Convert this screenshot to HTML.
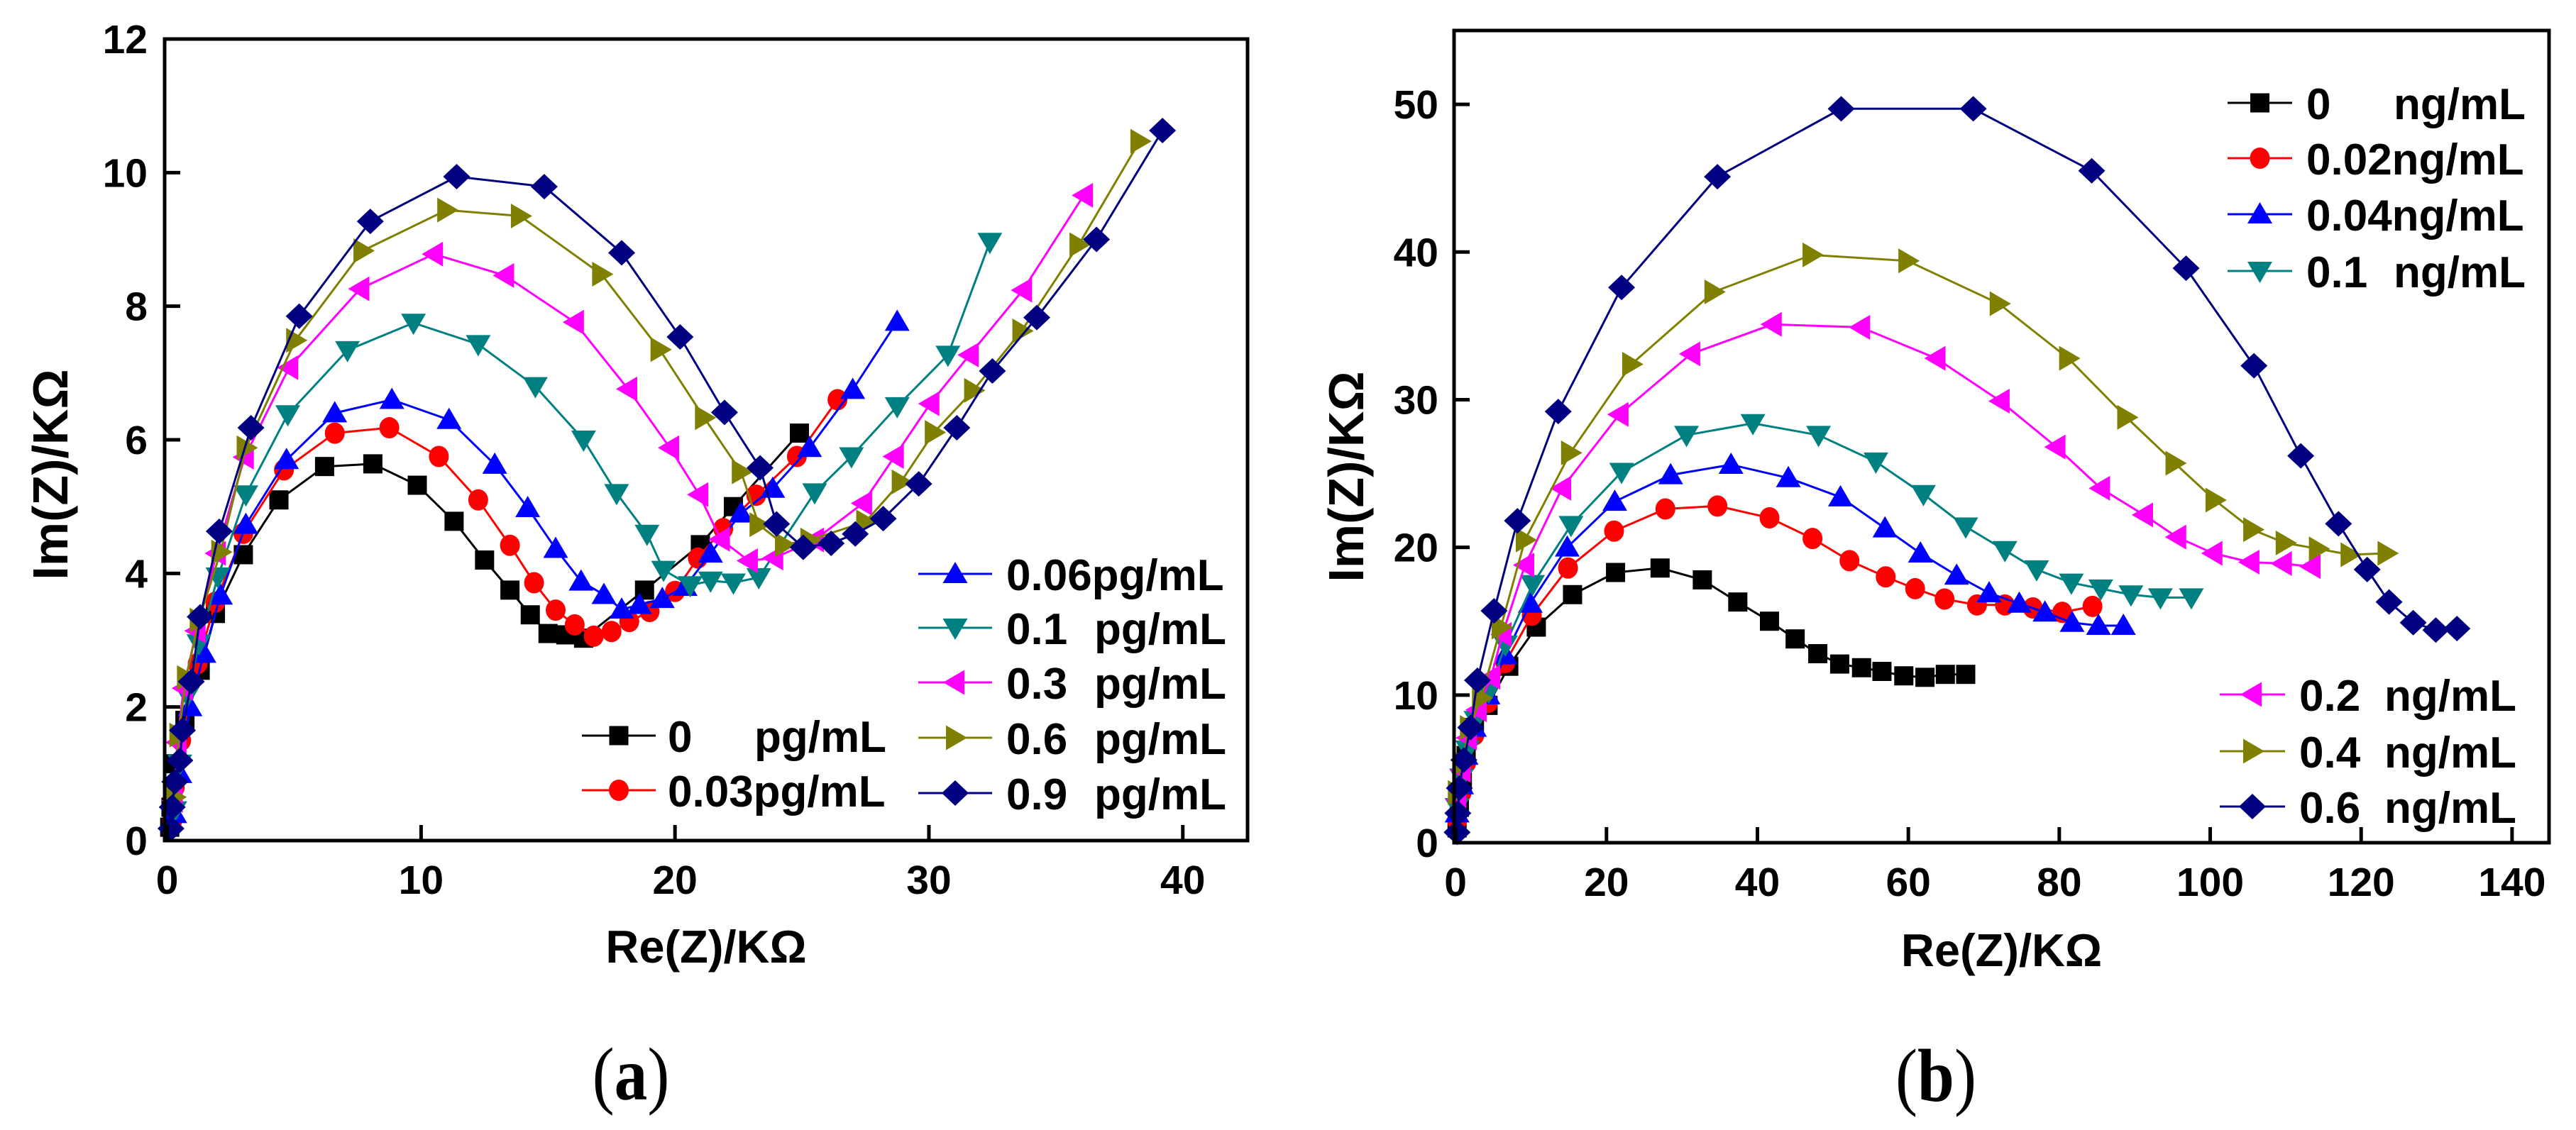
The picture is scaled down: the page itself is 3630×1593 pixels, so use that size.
<!DOCTYPE html>
<html><head><meta charset="utf-8"><style>
html,body{margin:0;padding:0;background:#fff;}
svg{display:block;font-family:"Liberation Sans",Arial,sans-serif;}
</style></head><body>
<svg id="fig" width="3630" height="1593" viewBox="0 0 3630 1593" xmlns="http://www.w3.org/2000/svg"></svg>
<script>
// ---------- Panel (a) data ----------
const aNames = ["0","0.03","0.06","0.1","0.3","0.6","0.9"];
const aX0  = [0.1,0.15,0.3,0.7,1.3,1.9,3.0,4.4,6.2,8.1,9.85,11.3,12.5,13.5,14.3,15.0,15.7,16.4,18.8,21.0,22.3,24.9];
const aY0  = [0.2,0.5,1.15,1.8,2.55,3.4,4.28,5.1,5.6,5.64,5.32,4.78,4.2,3.75,3.38,3.1,3.08,3.03,3.75,4.43,5.0,6.1];
const aX1  = [0.2,0.3,0.55,1.2,1.9,3.0,4.6,6.6,8.75,10.7,12.25,13.5,14.45,15.3,16.05,16.8,17.5,18.2,19.0,20.0,20.9,21.9,23.2,24.8,26.4];
const aY1  = [0.3,0.8,1.5,2.65,3.57,4.6,5.55,6.1,6.18,5.75,5.1,4.42,3.86,3.45,3.23,3.06,3.13,3.28,3.43,3.73,4.23,4.67,5.17,5.75,6.6];
const aX2  = [0.3,0.5,0.9,1.45,2.1,3.1,4.7,6.6,8.85,11.1,12.9,14.2,15.3,16.3,17.2,17.9,18.6,19.5,20.4,21.4,22.6,23.85,25.3,27.0,28.75];
const aY2  = [0.4,1.0,2.0,2.8,3.67,4.73,5.7,6.4,6.6,6.3,5.63,4.98,4.37,3.88,3.68,3.46,3.53,3.62,3.8,4.3,4.9,5.27,5.88,6.75,7.77];
const aX3  = [0.3,0.5,0.8,1.25,2.0,3.1,4.75,7.1,9.7,12.25,14.5,16.4,17.7,18.9,19.55,20.6,21.4,22.3,23.3,25.5,26.95,28.75,30.75,32.4];
const aY3  = [0.45,1.15,2.17,2.95,3.95,5.18,6.38,7.34,7.75,7.43,6.8,6.0,5.2,4.59,4.05,3.82,3.89,3.86,3.94,5.21,5.75,6.5,7.27,8.96];
const aX4  = [0.25,0.4,0.65,1.15,1.95,3.05,4.8,7.6,10.5,13.3,16.05,18.15,19.8,20.95,21.8,22.9,23.9,25.5,27.4,28.65,30.05,31.6,33.7,36.1];
const aY4  = [0.6,1.47,2.28,3.14,4.3,5.74,7.08,8.26,8.78,8.46,7.76,6.76,5.88,5.18,4.51,4.19,4.23,4.5,5.05,5.75,6.54,7.27,8.24,9.66];
const aX5  = [0.3,0.45,0.75,1.25,2.1,3.1,5.05,7.7,11.0,13.9,17.1,19.4,21.15,22.6,23.3,24.3,25.3,27.5,28.9,30.2,31.75,33.65,35.9,38.3];
const aY5  = [0.65,1.58,2.44,3.3,4.32,5.88,7.49,8.83,9.44,9.35,8.48,7.35,6.33,5.52,4.73,4.43,4.5,4.77,5.37,6.11,6.74,7.63,8.92,10.47];
const aX6  = [0.15,0.2,0.3,0.5,0.6,0.95,1.3,2.05,3.3,5.2,8.0,11.4,14.85,17.9,20.2,21.95,23.35,24.0,25.05,26.15,27.1,28.2,29.6,31.1,32.5,34.25,36.6,39.2];
const aY6  = [0.18,0.5,0.88,1.2,1.65,2.38,3.35,4.63,6.18,7.85,9.27,9.94,9.79,8.8,7.54,6.41,5.58,4.74,4.39,4.45,4.59,4.82,5.34,6.18,7.03,7.83,9.0,10.63];
const aXTicks = [0,10,20,30,40];
const aYTicks = [0,2,4,6,8,10,12];

// ---------- Panel (b) data ----------
const bNames = ["0","0.02","0.04","0.1","0.2","0.4","0.6"];
const bX0 = [0.2,0.5,0.9,1.4,2.5,4.3,7.05,10.7,15.5,21.2,27.1,32.7,37.4,41.6,45.0,48.0,50.9,53.8,56.5,59.4,62.2,64.9,67.6];
const bY0 = [1,2.4,4.1,5.9,7.8,9.3,11.95,14.6,16.8,18.3,18.6,17.8,16.3,15.0,13.8,12.8,12.1,11.85,11.6,11.3,11.2,11.4,11.4];
const bX1 = [0.2,0.8,1.4,2.5,4.3,6.6,10.1,14.9,21.0,27.8,34.7,41.6,47.3,52.2,57.0,60.9,64.8,69.1,72.8,76.5,80.4,84.4];
const bY1 = [1.5,3.4,5.4,7.3,9.5,12.2,15.4,18.6,21.1,22.6,22.8,22.0,20.6,19.1,18.0,17.2,16.5,16.1,16.1,15.9,15.6,16.0];
const bX2 = [0.2,0.8,1.4,2.5,4.3,6.6,9.9,14.8,21.1,28.5,36.5,44.1,51.0,56.9,61.6,66.4,70.7,74.7,78.1,81.7,85.2,88.5];
const bY2 = [2,3.9,5.9,7.8,10.0,12.7,16.2,20.0,23.1,24.9,25.6,24.7,23.4,21.3,19.6,18.1,16.9,16.2,15.6,14.9,14.7,14.7];
const bX3 = [0.2,0.8,1.6,2.7,4.4,6.6,10.2,15.3,22.0,30.6,39.4,48.1,55.7,62.0,67.6,72.8,77.0,81.6,85.5,89.5,93.4,97.5];
const bY3 = [2.4,4.4,6.3,8.3,10.2,13.4,17.5,21.5,25.1,27.6,28.4,27.6,25.8,23.6,21.4,19.8,18.5,17.6,17.2,16.8,16.6,16.6];
const bX4 = [0.2,0.8,1.6,2.9,4.7,6.2,9.2,14.1,21.7,31.2,42.0,53.7,63.7,72.2,79.6,85.5,91.2,95.6,100.4,105.3,109.6,113.4];
const bY4 = [2.9,4.9,7.1,9.0,11.2,14.1,18.8,24.0,29.0,33.1,35.1,34.9,32.8,29.9,26.8,24.0,22.2,20.7,19.6,19.0,18.9,18.7];
const bX5 = [0.2,0.9,1.8,3.4,6.0,9.2,15.2,23.3,34.2,47.2,59.9,72.0,81.2,88.9,95.3,100.6,105.6,109.9,114.3,118.5,123.4];
const bY5 = [3.4,5.4,7.8,9.8,14.6,20.5,26.4,32.4,37.3,39.8,39.4,36.5,32.8,28.8,25.7,23.2,21.2,20.3,19.9,19.5,19.6];
const bX6 = [0.2,0.3,0.5,1.1,2.0,2.9,5.1,8.2,13.6,22.0,34.7,51.1,68.6,84.3,96.8,105.8,112.0,117.0,120.8,123.7,126.9,129.9,132.7];
const bY6 = [0.7,2,3.7,5.6,7.8,11.0,15.7,21.8,29.2,37.6,45.1,49.7,49.7,45.5,38.9,32.3,26.2,21.6,18.5,16.3,14.9,14.4,14.5];
const bXTicks = [0,20,40,60,80,100,120,140];
const bYTicks = [0,10,20,30,40,50];

// ---------- styles ----------
const COLORS = ["#000000","#ff0000","#0000ff","#008080","#ff00ff","#808000","#000080"];
const SHAPES = ["square","circle","up","down","left","right","diamond"];
const NS = "http://www.w3.org/2000/svg";
const svg = document.getElementById('fig');

function mk(tag, attrs, parent){
  const e = document.createElementNS(NS, tag);
  for (const k in attrs) e.setAttribute(k, attrs[k]);
  (parent||svg).appendChild(e);
  return e;
}
function marker(shape, cx, cy, color, parent){
  let e;
  if (shape === "square") e = mk('rect',{x:cx-13.5,y:cy-13.5,width:27,height:27,fill:color},parent);
  else if (shape === "circle") e = mk('ellipse',{cx:cx,cy:cy,rx:14,ry:15,fill:color},parent);
  else {
    let p;
    if (shape==="up") p=[[cx,cy-17],[cx+17.5,cy+13],[cx-17.5,cy+13]];
    else if (shape==="down") p=[[cx,cy+17],[cx+17.5,cy-13],[cx-17.5,cy-13]];
    else if (shape==="left") p=[[cx-17,cy],[cx+13,cy-17.5],[cx+13,cy+17.5]];
    else if (shape==="right") p=[[cx+17,cy],[cx-13,cy-17.5],[cx-13,cy+17.5]];
    else p=[[cx,cy-18],[cx+19,cy],[cx,cy+18],[cx-19,cy]];
    e = mk('polygon',{points:p.map(q=>q.join(',')).join(' '),fill:color},parent);
  }
  return e;
}

function panel(cfg){
  const g = mk('g',{});
  
  
  const sx = v => cfg.x0 + (v - cfg.xmin) / (cfg.xmax - cfg.xmin) * (cfg.x1 - cfg.x0);
  const sy = v => cfg.yb - (v - cfg.ymin) / (cfg.ymax - cfg.ymin) * (cfg.yb - cfg.yt);
  cfg.series.forEach((s, i) => {
    const sg = mk('g',{},g);
    
    
    const pts = s.x.map((v,k)=>sx(v).toFixed(1)+','+sy(s.y[k]).toFixed(1)).join(' ');
    const pl = mk('polyline',{points:pts,fill:'none',stroke:COLORS[i],'stroke-width':3},sg);
    
    
    s.x.forEach((v,k)=>{
      const m = marker(SHAPES[i], sx(v), sy(s.y[k]), COLORS[i], sg);
      
      
    });
  });
  const fr = mk('rect',{x:cfg.x0,y:cfg.yt,width:cfg.x1-cfg.x0,height:cfg.yb-cfg.yt,fill:'none',stroke:'#000','stroke-width':5},g);
  
  
  cfg.xticks.forEach(t=>{
    const X = sx(t);
    mk('line',{x1:X,y1:cfg.yb,x2:X,y2:cfg.yb-22,stroke:'#000','stroke-width':5},g);
    const tx = mk('text',{x:X,y:cfg.xlabY,'font-size':57,'font-weight':'bold','text-anchor':'middle'},g);
    
    
    tx.textContent = t;
  });
  cfg.yticks.forEach(t=>{
    const Y = sy(t);
    mk('line',{x1:cfg.x0,y1:Y,x2:cfg.x0+22,y2:Y,stroke:'#000','stroke-width':5},g);
    const ty = mk('text',{x:cfg.ylabX,y:Y+20,'font-size':57,'font-weight':'bold','text-anchor':'end'},g);
    
    
    ty.textContent = t;
  });
  const xt = mk('text',{x:(cfg.x0+cfg.x1)/2,y:cfg.xtitleY,'font-size':65,'font-weight':'bold','text-anchor':'middle'},g);
  
  
  xt.textContent = 'Re(Z)/KΩ';
  const yt = mk('text',{x:0,y:0,'font-size':70,'font-weight':'bold','text-anchor':'middle',transform:`translate(${cfg.ytitleX},${cfg.ytitleY}) rotate(-90)`},g);
  
  
  yt.textContent = 'Im(Z)/KΩ';
  cfg.legend.forEach(L=>{
    const lg = mk('g',{},g);
    
    
    mk('line',{x1:L.lx1,y1:L.y,x2:L.lx2,y2:L.y,stroke:COLORS[L.i],'stroke-width':3},lg);
    marker(SHAPES[L.i],(L.lx1+L.lx2)/2,L.y,COLORS[L.i],lg);
    const t1 = mk('text',{x:L.tx,y:L.y+23,'font-size':62,'font-weight':'bold'},lg);
    if (L.ux) {
      t1.textContent = cfg.series[L.i].label;
      const t2 = mk('text',{x:L.ux,y:L.y+23,'font-size':62,'font-weight':'bold'},lg);
      t2.textContent = cfg.unit;
    } else {
      t1.textContent = cfg.series[L.i].label + cfg.unit;
    }
  });
  const cap = mk('text',{x:0,y:0,'font-size':106,'font-family':'"Liberation Serif",serif','text-anchor':'middle',transform:`translate(${cfg.capX},${cfg.capY}) scale(0.88,1)`},svg);
  
  
  const t1 = mk('tspan',{},cap); t1.textContent='(';
  const t2 = mk('tspan',{'font-weight':'bold'},cap); t2.textContent=cfg.cap;
  const t3 = mk('tspan',{},cap); t3.textContent=')';
}

panel({
  name:'panel-a-chart', x0:232, x1:1758, yt:55, yb:1185,
  xmin:-0.1, xmax:42.55, ymin:0, ymax:12,
  xticks:aXTicks, yticks:aYTicks, xlabY:1260, ylabX:208, xtitleY:1357, ytitleX:95, ytitleY:669,
  unit:'pg/mL',
  series:[
    {label:aNames[0],x:aX0,y:aY0},{label:aNames[1],x:aX1,y:aY1},{label:aNames[2],x:aX2,y:aY2},
    {label:aNames[3],x:aX3,y:aY3},{label:aNames[4],x:aX4,y:aY4},{label:aNames[5],x:aX5,y:aY5},
    {label:aNames[6],x:aX6,y:aY6}],
  legend:[
    {i:0,lx1:820,lx2:924,tx:941,ux:1063,y:1037},
    {i:1,lx1:820,lx2:924,tx:941,y:1114},
    {i:2,lx1:1294,lx2:1398,tx:1418,y:809},
    {i:3,lx1:1294,lx2:1398,tx:1418,ux:1542,y:885},
    {i:4,lx1:1294,lx2:1398,tx:1418,ux:1542,y:962},
    {i:5,lx1:1294,lx2:1398,tx:1418,ux:1542,y:1040},
    {i:6,lx1:1294,lx2:1398,tx:1418,ux:1542,y:1118}],
  capX:889, capY:1550, cap:'a'
});

panel({
  name:'panel-b-chart', x0:2049, x1:3592, yt:43, yb:1188,
  xmin:-0.2, xmax:144.9, ymin:0, ymax:55,
  xticks:bXTicks, yticks:bYTicks, xlabY:1263, ylabX:2027, xtitleY:1362, ytitleX:1921, ytitleY:672,
  unit:'ng/mL',
  series:[
    {label:bNames[0],x:bX0,y:bY0},{label:bNames[1],x:bX1,y:bY1},{label:bNames[2],x:bX2,y:bY2},
    {label:bNames[3],x:bX3,y:bY3},{label:bNames[4],x:bX4,y:bY4},{label:bNames[5],x:bX5,y:bY5},
    {label:bNames[6],x:bX6,y:bY6}],
  legend:[
    {i:0,lx1:3139,lx2:3230,tx:3250,ux:3373,y:145},
    {i:1,lx1:3139,lx2:3230,tx:3250,y:223},
    {i:2,lx1:3139,lx2:3230,tx:3250,y:302},
    {i:3,lx1:3139,lx2:3230,tx:3250,ux:3373,y:382},
    {i:4,lx1:3128,lx2:3220,tx:3240,ux:3360,y:979},
    {i:5,lx1:3128,lx2:3220,tx:3240,ux:3360,y:1059},
    {i:6,lx1:3128,lx2:3220,tx:3240,ux:3360,y:1137}],
  capX:2728, capY:1552, cap:'b'
});
</script>
</body></html>
